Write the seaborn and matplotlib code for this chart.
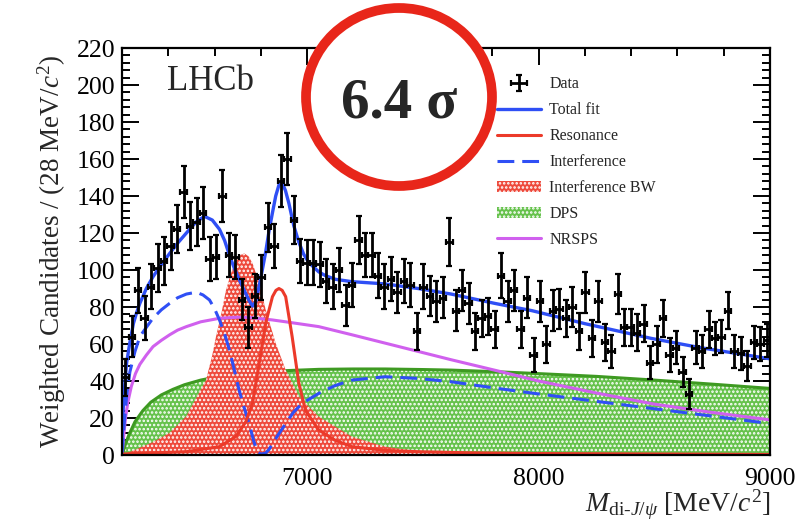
import numpy as np
import pandas as pd
import matplotlib
matplotlib.use("Agg")
import matplotlib.pyplot as plt
import seaborn as sns
from matplotlib.patches import Ellipse, Patch
from matplotlib.lines import Line2D
from matplotlib.ticker import MultipleLocator

# ---------------- data ----------------
mass_lo = 6200
bin_width = 28
counts = [42, 64, 89, 74, 91, 101, 105, 113, 122, 142,
          124, 126, 131, 106, 107, 140, 108, 107, 84, 69,
          86, 96, 123, 113, 148, 160, 127, 105, 104, 104,
          103, 94, 91, 100, 81, 92, 116, 108, 108, 97,
          91, 95, 88, 94, 92, 67, 91, 86, 83, 85,
          115, 78, 89, 82, 67, 74, 75, 68, 97, 83,
          89, 68, 85, 54, 83, 60, 78, 79, 74, 80,
          67, 88, 63, 83, 61, 56, 87, 69, 69, 66,
          71, 50, 60, 74, 54, 58, 45, 33, 58, 56,
          68, 63, 64, 78, 56, 55, 48, 61, 60, 62]
errors = [10, 11, 12, 12, 12, 13, 13, 13, 13, 14,
          13, 13, 14, 12, 12, 14, 12, 12, 11, 11,
          12, 12, 13, 12, 14, 14, 13, 12, 12, 12,
          12, 12, 12, 12, 11, 12, 13, 12, 12, 12,
          12, 12, 11, 12, 12, 10, 12, 11, 11, 11,
          13, 11, 11, 11, 10, 10, 10, 10, 12, 11,
          11, 10, 11, 9, 11, 10, 11, 11, 10, 11,
          10, 11, 10, 11, 10, 9, 11, 10, 10, 10,
          10, 9, 10, 10, 9, 9, 8, 8, 9, 9,
          10, 9, 9, 10, 9, 9, 8, 9, 9, 9]

fit_mass = [6200, 6206, 6213, 6220, 6234, 6249, 6263, 6277, 6305, 6334, 6370, 6406,
            6440, 6478, 6520, 6556, 6590, 6621, 6643, 6664, 6685, 6706, 6728, 6749,
            6764, 6778, 6792, 6806, 6821, 6835, 6850, 6864, 6878, 6892, 6906, 6921,
            6942, 6964, 6985, 7007, 7050, 7078, 7121, 7193, 7336, 7479, 7622, 7809,
            7972, 8200, 8488, 8700, 9000]
fit_vals = [8, 28, 40, 50, 61, 71, 77, 82, 90, 96.4, 103, 109,
            114.5, 120, 126, 129, 127, 122, 116, 108, 101, 95, 89, 83.5,
            80.5, 83, 91, 100, 110, 121, 131, 140, 146, 147, 143, 136,
            124, 115, 108.5, 104, 99, 97, 95, 93.7, 92.5, 90, 87, 82,
            78, 71, 63, 58, 52]

res_mass = [6200, 6478, 6621, 6692, 6735, 6764, 6793, 6821, 6850, 6865, 6878, 6892,
            6907, 6935, 6964, 6993, 7050, 7120, 7193, 7336, 7479, 7700, 8000, 9000]
res_vals = [0.5, 1.8, 4.5, 10, 18, 28, 50, 71.5, 85.6, 89, 90, 89,
            85.6, 64, 38.7, 24, 13.5, 8, 4.5, 2.5, 1.8, 1.2, 0.8, 0.3]

int_mass = [6200, 6206, 6220, 6234, 6256, 6277, 6305, 6334, 6370, 6406, 6440, 6478,
            6521, 6550, 6578, 6600, 6621, 6643, 6664, 6685, 6706, 6728, 6749, 6768,
            6785, 6800, 6820, 6835, 6870, 6907, 6940, 6978, 7050, 7120, 7193, 7336,
            7479, 7622, 7822, 8000, 8250, 8500, 8750, 9000]
int_vals = [0, 12, 32, 45, 56, 64, 69, 74, 78.5, 82, 85, 87,
            88, 86.5, 83.8, 79, 73, 65.5, 56.8, 46, 35, 25.5, 17, 8,
            1.5, 0.5, 1, 3, 10, 17, 23, 27.9, 33.3, 37.5, 40.5, 42.3,
            41.4, 39.6, 36, 33, 29, 25, 21, 17]

bw_mass = [6200, 6260, 6334, 6406, 6478, 6539, 6563, 6590, 6606, 6630, 6649, 6670,
           6692, 6710, 6728, 6746, 6764, 6793, 6821, 6864, 6907, 6964, 7050, 7193,
           7336, 7479, 7622, 8000, 9000]
bw_vals = [0, 3, 7, 12, 21, 35, 40.5, 54, 64, 77, 89, 98,
           105, 108, 109, 107.5, 103.6, 92.8, 78.4, 60.4, 46, 31.5, 20.7, 9.9,
           4.5, 2, 0.9, 0.3, 0]

dps_mass = [6200, 6215, 6230, 6256, 6290, 6324, 6370, 6420, 6470, 6540, 6612, 6700,
            6800, 6907, 7050, 7200, 7336, 7500, 7622, 7822, 8000, 8250, 8500, 8750, 9000]
dps_vals = [0, 6, 11, 18, 24, 28.5, 32.5, 35.5, 38, 40.5, 42.3, 43.5,
            44.8, 45.6, 46.3, 46.5, 46.5, 46.2, 45.9, 45, 44, 42.5, 40.5, 38.3, 36]

nr_mass = [6200, 6207, 6215, 6225, 6240, 6258, 6277, 6305, 6334, 6370, 6406, 6440,
           6478, 6540, 6621, 6700, 6764, 6850, 6907, 7050, 7193, 7336, 7479, 7622,
           7822, 8000, 8250, 8500, 8750, 9000]
nr_vals = [0, 10, 20, 28.5, 37, 44, 49, 54, 58.6, 62, 65, 67.5,
           69.4, 72, 73.9, 74.5, 74.2, 73, 72, 69.4, 65, 60.5, 56, 51.5,
           45.5, 40, 33.5, 27.5, 23, 19]

legend_labels = ["Data", "Total fit", "Resonance", "Interference",
                 "Interference BW", "DPS", "NRSPS"]

# ---------------- style ----------------
sns.set_theme(style="ticks")
plt.rcParams["font.family"] = ["Liberation Serif", "DejaVu Serif"]
plt.rcParams["mathtext.fontset"] = "custom"
plt.rcParams["mathtext.rm"] = "Liberation Serif"
plt.rcParams["mathtext.it"] = "Liberation Serif:italic"
plt.rcParams["mathtext.bf"] = "Liberation Serif:bold"
plt.rcParams["hatch.linewidth"] = 1.2

C_BLUE = "#2f4ff5"
C_RED = "#ec3a2a"
C_RED_FILL = "#ee4a3c"
C_GREEN = "#3e9a22"
C_GREEN_FILL = "#66c24c"
C_MAG = "#d060ee"

fig = plt.figure(figsize=(8.05, 5.27), dpi=100)
ax = fig.add_axes([0.1516, 0.1366, 0.805, 0.7723])

# fills
ax.fill_between(dps_mass, 0, dps_vals, facecolor=C_GREEN_FILL, edgecolor="white",
                hatch="....", linewidth=0, zorder=1)
sns.lineplot(x=dps_mass, y=dps_vals, ax=ax, color=C_GREEN, lw=2.2, zorder=2)
ax.fill_between(bw_mass, 0, bw_vals, facecolor=C_RED_FILL, edgecolor="white",
                hatch="....", linewidth=0, zorder=2.5)

# curves
sns.lineplot(x=nr_mass, y=nr_vals, ax=ax, color=C_MAG, lw=2.2, zorder=3)
sns.lineplot(x=int_mass, y=int_vals, ax=ax, color=C_BLUE, lw=2.2, zorder=3)
ax.lines[-1].set_linestyle((0, (5.5, 2.6)))
sns.lineplot(x=res_mass, y=res_vals, ax=ax, color=C_RED, lw=2.2, zorder=4)
sns.lineplot(x=fit_mass, y=fit_vals, ax=ax, color=C_BLUE, lw=2.4, zorder=5)

# data
centers = mass_lo + bin_width * (np.arange(len(counts)) + 0.5)
eb = ax.errorbar(centers, counts, yerr=errors, xerr=bin_width / 2, fmt="none",
                 ecolor="black", elinewidth=2.0, capsize=2.0, capthick=1.6, zorder=6)

ax.set_xlim(6200, 9000)
ax.set_ylim(0, 220)

ax.xaxis.set_major_locator(MultipleLocator(1000))
ax.xaxis.set_minor_locator(MultipleLocator(200))
ax.yaxis.set_major_locator(MultipleLocator(20))
ax.yaxis.set_minor_locator(MultipleLocator(4))
ax.tick_params(which="both", direction="in", top=True, right=True, width=1.4,
               colors="black")
ax.tick_params(which="major", length=12, labelsize=18.5)
ax.tick_params(which="minor", length=6)
ax.tick_params(axis="x", which="major", pad=9)
ax.tick_params(axis="y", which="major", pad=5)
for s in ax.spines.values():
    s.set_linewidth(1.6)
    s.set_color("black")
    s.set_zorder(7)

ax.set_ylabel("Weighted Candidates / (28 MeV/$c^2$)", fontsize=19.5, labelpad=6)
ax.set_xlabel(r"$M_{\mathrm{di}\text{-}J/\psi}$ [MeV/$c^2$]", fontsize=20,
              loc="right", labelpad=-1)

ax.text(0.069, 0.897, "LHCb", transform=ax.transAxes, fontsize=25,
        ha="left", va="baseline")

# legend
handles = [
    eb,
    Line2D([], [], color=C_BLUE, lw=2.4),
    Line2D([], [], color=C_RED, lw=2.2),
    Line2D([], [], color=C_BLUE, lw=2.2, linestyle=(0, (5.5, 2.6))),
    Patch(facecolor=C_RED_FILL, edgecolor="white", hatch="....", linewidth=0),
    Patch(facecolor=C_GREEN_FILL, edgecolor="white", hatch="....", linewidth=0),
    Line2D([], [], color=C_MAG, lw=2.2),
]
ax.legend(handles=handles, labels=legend_labels, loc="upper left",
          bbox_to_anchor=(0.578, 0.93), frameon=False, fontsize=11.5,
          handlelength=2.8, handletextpad=0.5, labelspacing=0.62,
          borderpad=0, borderaxespad=0)

# significance annotation
circ = Ellipse((399 / 805, 1 - 97 / 527), width=186 / 805, height=178 / 527,
               transform=fig.transFigure, facecolor="white", edgecolor="#e8261a",
               linewidth=7, zorder=10)
fig.add_artist(circ)
fig.text(399 / 805, 1 - 103 / 527, "6.4 σ", fontsize=41, fontweight="bold",
         ha="center", va="center", zorder=11)

fig.savefig("out.png", dpi=100)
